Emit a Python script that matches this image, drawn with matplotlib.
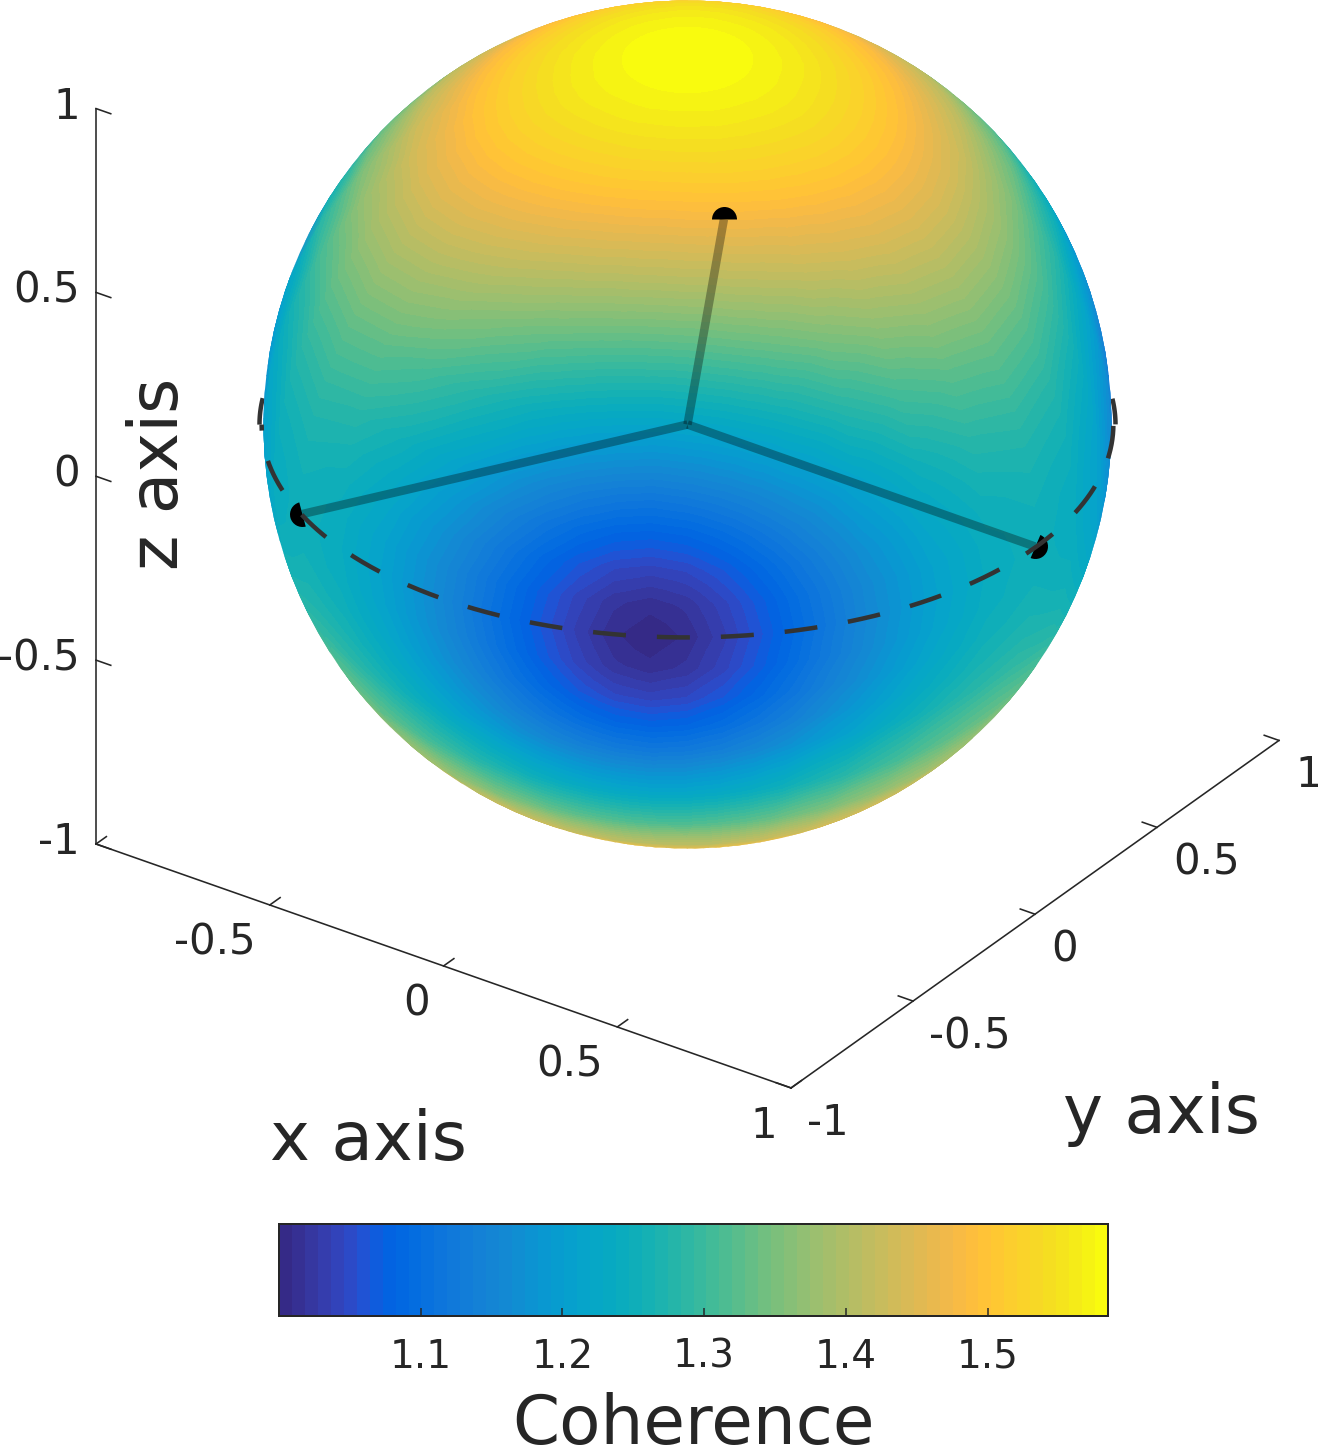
import numpy as np
import matplotlib
matplotlib.use("Agg")
import matplotlib.pyplot as plt
from matplotlib.colors import ListedColormap, Normalize
from matplotlib.cm import ScalarMappable
from matplotlib.markers import MarkerStyle
from matplotlib.patches import Circle
from matplotlib.transforms import Affine2D
from matplotlib.tri import Triangulation

plt.rcParams['lines.scale_dashes'] = False

# ---- data -------------------------------------------------------------
# coherence on the sphere, estimated and checked against the colourbar
latitudes = [0, 5, 10, 15, 20, 30, 40, 50, 60, 65, 70, 75, 80, 85, 90]
longitude_offsets = [0, 10, 20, 30, 40, 45, 50, 55, 60]
coherence_table = [
    [1.252, 1.240, 1.206, 1.155, 1.093, 1.062, 1.034, 1.011, 1.000],
    [1.254, 1.243, 1.209, 1.159, 1.099, 1.069, 1.042, 1.021, 1.013],
    [1.262, 1.251, 1.219, 1.171, 1.115, 1.088, 1.064, 1.047, 1.041],
    [1.274, 1.264, 1.234, 1.191, 1.140, 1.117, 1.097, 1.083, 1.078],
    [1.291, 1.281, 1.254, 1.215, 1.173, 1.153, 1.137, 1.126, 1.121],
    [1.335, 1.328, 1.309, 1.281, 1.251, 1.239, 1.229, 1.223, 1.220],
    [1.389, 1.384, 1.372, 1.354, 1.336, 1.329, 1.323, 1.319, 1.318],
    [1.446, 1.443, 1.436, 1.427, 1.417, 1.414, 1.410, 1.409, 1.408],
    [1.500, 1.499, 1.496, 1.492, 1.488, 1.486, 1.485, 1.484, 1.483],
    [1.524, 1.523, 1.521, 1.519, 1.517, 1.516, 1.515, 1.514, 1.514],
    [1.545, 1.544, 1.543, 1.542, 1.541, 1.541, 1.540, 1.540, 1.540],
    [1.562, 1.562, 1.561, 1.561, 1.561, 1.560, 1.560, 1.560, 1.560],
    [1.574, 1.574, 1.574, 1.574, 1.574, 1.574, 1.574, 1.574, 1.574],
    [1.582, 1.582, 1.582, 1.582, 1.582, 1.582, 1.582, 1.582, 1.582],
    [1.585, 1.585, 1.585, 1.585, 1.585, 1.585, 1.585, 1.585, 1.585],
]
point_x = [1.0, -0.5, -0.485]
point_y = [0.0, -0.866, 0.840]
point_z = [0.0, 0.0, 0.0]
axis_ticks = [-1, -0.5, 0, 0.5, 1]
axis_tick_labels = ['-1', '-0.5', '0', '0.5', '1']
colorbar_ticks = [1.1, 1.2, 1.3, 1.4, 1.5]
coherence_min = 1.0
coherence_max = 1.585
parula_colors = [
    [0.2081,0.1663,0.5292],[0.2116,0.1898,0.5777],[0.2123,0.2138,0.6270],[0.2081,0.2386,0.6771],
    [0.1959,0.2645,0.7279],[0.1707,0.2919,0.7792],[0.1253,0.3242,0.8303],[0.0591,0.3598,0.8683],
    [0.0117,0.3875,0.8820],[0.0060,0.4086,0.8828],[0.0165,0.4266,0.8786],[0.0329,0.4430,0.8720],
    [0.0498,0.4586,0.8641],[0.0629,0.4737,0.8554],[0.0723,0.4887,0.8467],[0.0779,0.5040,0.8384],
    [0.0793,0.5200,0.8312],[0.0749,0.5375,0.8263],[0.0641,0.5570,0.8240],[0.0488,0.5772,0.8228],
    [0.0343,0.5966,0.8199],[0.0265,0.6137,0.8135],[0.0239,0.6287,0.8038],[0.0231,0.6418,0.7913],
    [0.0228,0.6535,0.7768],[0.0267,0.6642,0.7607],[0.0384,0.6743,0.7436],[0.0590,0.6838,0.7254],
    [0.0843,0.6928,0.7062],[0.1133,0.7015,0.6859],[0.1453,0.7098,0.6646],[0.1801,0.7177,0.6424],
    [0.2178,0.7250,0.6193],[0.2586,0.7317,0.5954],[0.3022,0.7376,0.5712],[0.3482,0.7424,0.5473],
    [0.3953,0.7459,0.5244],[0.4420,0.7481,0.5033],[0.4871,0.7491,0.4840],[0.5300,0.7491,0.4661],
    [0.5709,0.7485,0.4494],[0.6099,0.7473,0.4337],[0.6473,0.7456,0.4188],[0.6834,0.7435,0.4044],
    [0.7184,0.7411,0.3905],[0.7525,0.7384,0.3768],[0.7858,0.7356,0.3633],[0.8185,0.7327,0.3498],
    [0.8507,0.7299,0.3360],[0.8824,0.7274,0.3217],[0.9139,0.7258,0.3063],[0.9450,0.7261,0.2886],
    [0.9739,0.7314,0.2666],[0.9938,0.7455,0.2403],[0.9990,0.7653,0.2164],[0.9955,0.7861,0.1967],
    [0.9880,0.8066,0.1794],[0.9789,0.8271,0.1633],[0.9697,0.8481,0.1475],[0.9626,0.8705,0.1309],
    [0.9589,0.8949,0.1132],[0.9598,0.9218,0.0948],[0.9661,0.9514,0.0755],[0.9763,0.9831,0.0538],
]

# ---- view ---------------------------------------------------------------
W, H = 1318, 1445
SCALE = 424.6
CX, CY = 687.5, 424.5
AZ, EL = np.radians(35.07), np.radians(30.0)
INK = '#262626'
px = 0.72  # points per pixel at dpi 100


def project(x, y, z):
    x, y, z = np.asarray(x, float), np.asarray(y, float), np.asarray(z, float)
    u = x * np.cos(AZ) + y * np.sin(AZ)
    v = (-x * np.sin(AZ) + y * np.cos(AZ)) * np.sin(EL) + z * np.cos(EL)
    return u, v


def depth(x, y, z):
    return (x * np.sin(AZ) - y * np.cos(AZ)) * np.cos(EL) + z * np.sin(EL)


def figxy(xp, yp):
    return xp / W, 1 - yp / H


fig = plt.figure(figsize=(W / 100, H / 100), dpi=100)
ax = fig.add_axes([0, 0, 1, 1])
ax.set_xlim(-CX / SCALE, (W - CX) / SCALE)
ax.set_ylim(-(H - CY) / SCALE, CY / SCALE)
ax.axis('off')

cmap = ListedColormap(parula_colors)
norm = Normalize(coherence_min, coherence_max)

# ---- sphere -------------------------------------------------------------
quad = np.array(coherence_table)
offsets = np.array(longitude_offsets, float)
period = np.concatenate([quad, quad[:, -2:0:-1]], axis=1)
period_lon = np.concatenate([offsets, 120 - offsets[-2:0:-1]])
rows = np.concatenate([period[:0:-1], period], axis=0)
lat_deg = np.concatenate([-np.array(latitudes[:0:-1], float), np.array(latitudes, float)])
field = np.tile(rows, (1, 3))
lon_deg = np.concatenate([period_lon, period_lon + 120, period_lon + 240])
n_lat, n_lon = field.shape
LON, LAT = np.meshgrid(np.radians(lon_deg), np.radians(lat_deg))
SX = np.cos(LAT) * np.cos(LON)
SY = np.cos(LAT) * np.sin(LON)
SZ = np.sin(LAT)
idx = np.arange(n_lat * n_lon).reshape(n_lat, n_lon)
tris = []
for i in range(n_lat - 1):
    for j in range(n_lon):
        k = (j + 1) % n_lon
        if i > 0:
            tris.append([idx[i, j], idx[i, k], idx[i + 1, k]])
        if i < n_lat - 2:
            tris.append([idx[i, j], idx[i + 1, k], idx[i + 1, j]])
tris = np.array(tris)
D = depth(SX, SY, SZ).ravel()
U, V = project(SX * 1.004, SY * 1.004, SZ * 1.004)
clip_disc = Circle((0, 0), 424.0 / SCALE, transform=ax.transData)

under = tris[D[tris].max(axis=1) > -0.02]
under = under[np.argsort(D[under].mean(axis=1))]
mesh = ax.tripcolor(Triangulation(U.ravel(), V.ravel(), under), field.ravel(),
                    shading='gouraud', cmap=cmap, norm=norm, zorder=2)
mesh.set_clip_path(clip_disc)

front = tris[D[tris].min(axis=1) > 0.0]
levels = np.linspace(coherence_min, coherence_max, len(parula_colors) + 1)
bands = ax.tricontourf(Triangulation(U.ravel(), V.ravel(), front), field.ravel(),
                       levels=levels, cmap=cmap, norm=norm, zorder=2.5, antialiased=False)
bands.set_clip_path(clip_disc)

# ---- equator ------------------------------------------------------------
on, off = 33 * px, 31 * px
t_front = np.radians(np.linspace(-144.9, 35.1, 400))
eu, ev = project(1.003 * np.cos(t_front), 1.003 * np.sin(t_front), 0 * t_front)
ax.plot(eu, ev, color='#333333', lw=4.5 * px, zorder=6,
        linestyle=(on - 6 * px, (on, off)), solid_capstyle='butt', dash_capstyle='butt')
for start, stop in [(-152.0, -144.9), (35.1, 42.0)]:
    t = np.radians(np.linspace(start, stop, 30))
    bu, bv = project(1.008 * np.cos(t), 1.008 * np.sin(t), 0 * t)
    ax.plot(bu, bv, color='#333333', lw=4.5 * px, zorder=1, solid_capstyle='butt')

# ---- trine vectors ------------------------------------------------------
pu, pv = project(point_x, point_y, point_z)
ou, ov = project(0, 0, 0)
for a, b in zip(pu, pv):
    ax.plot([ou, a], [ov, b], color='black', alpha=0.32, lw=8.5 * px, zorder=4,
            solid_capstyle='butt')
for a, b, fill, rot in zip(pu, pv, ['right', 'left', 'top'], [-23, 15, 0]):
    marker = MarkerStyle('o', fillstyle=fill, transform=Affine2D().rotate_deg(rot))
    ax.plot([a], [b], marker=marker, color='black', markersize=25 * px,
            markeredgewidth=0, markerfacecoloralt='none', linestyle='none', zorder=5)

# ---- box axes -----------------------------------------------------------
LW = 1.6 * px
TICK = 18 / SCALE


def axis_line(x0, x1):
    a, b = project(*x0), project(*x1)
    ax.plot([a[0], b[0]], [a[1], b[1]], color=INK, lw=LW, zorder=3, solid_capstyle='projecting')


axis_line((-1, -1, -1), (1, -1, -1))
axis_line((1, -1, -1), (1, 1, -1))
axis_line((-1, -1, -1), (-1, -1, 1))

FONT_TICK = 30.2
for tick, text in zip(axis_ticks, axis_tick_labels):
    # x axis, ticks run along +y
    xp = project(tick, -1, -1)
    xq = project(tick, -1 + TICK, -1)
    ax.plot([xp[0], xq[0]], [xp[1], xq[1]], color=INK, lw=LW, zorder=3)
    if tick != -1:
        ax.annotate(text, (float(xp[0]), float(xp[1])), xytext=(-14 * px, -38 * px),
                    textcoords='offset points', ha='right', va='center',
                    fontsize=FONT_TICK, color=INK)
    # y axis, ticks run along -x
    yp = project(1, tick, -1)
    yq = project(1 - TICK, tick, -1)
    ax.plot([yp[0], yq[0]], [yp[1], yq[1]], color=INK, lw=LW, zorder=3)
    ax.annotate(text, (float(yp[0]), float(yp[1])), xytext=(16 * px, -35 * px),
                textcoords='offset points', ha='left', va='center',
                fontsize=FONT_TICK, color=INK)
    # z axis, ticks run along +x
    zp = project(-1, -1, tick)
    zq = project(-1 + TICK, -1, tick)
    ax.plot([zp[0], zq[0]], [zp[1], zq[1]], color=INK, lw=LW, zorder=3)
    ax.annotate(text, (float(zp[0]), float(zp[1])), xytext=(-16 * px, 2 * px),
                textcoords='offset points', ha='right', va='center',
                fontsize=FONT_TICK, color=INK)

FONT_LABEL = 48.6
fig.text(*figxy(368, 1141), 'x axis', fontsize=FONT_LABEL, color=INK, ha='center', va='center')
fig.text(*figxy(1161, 1114), 'y axis', fontsize=FONT_LABEL, color=INK, ha='center', va='center')
fig.text(*figxy(159, 474), 'z axis', fontsize=FONT_LABEL, color=INK, ha='center', va='center',
         rotation=90)

# ---- colorbar -----------------------------------------------------------
cax = fig.add_axes([279 / W, 1 - 1316 / H, (1108 - 279) / W, (1316 - 1224) / H])
cb = fig.colorbar(ScalarMappable(norm=norm, cmap=cmap), cax=cax, orientation='horizontal')
cb.set_ticks(colorbar_ticks)
cb.set_ticklabels(['%.1f' % v for v in colorbar_ticks])
cb.outline.set_edgecolor(INK)
cb.outline.set_linewidth(2.0 * px)
cax.tick_params(axis='x', direction='in', length=8 * px, width=1.5 * px, color=INK,
                labelcolor=INK, labelsize=28.0, pad=22 * px)
cax.minorticks_off()
fig.text(*figxy(694, 1425), 'Coherence', fontsize=FONT_LABEL, color=INK, ha='center', va='center')

fig.savefig('out.png', dpi=100)
